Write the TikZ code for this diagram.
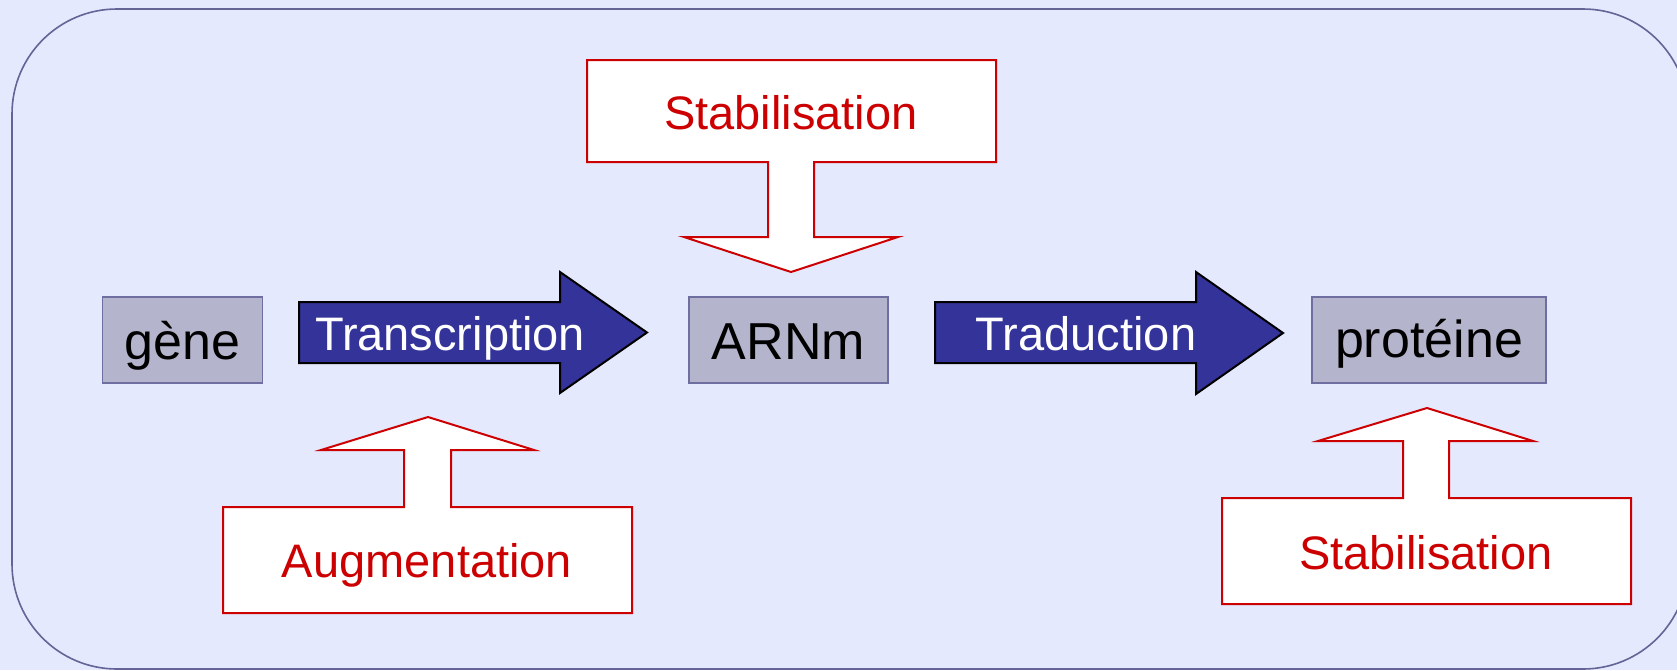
\documentclass[tikz,border=0pt]{standalone}
\usepackage{fontspec}
\setmainfont{Liberation Sans}
\definecolor{bgc}{RGB}{228,233,253}
\definecolor{framec}{RGB}{100,100,150}
\definecolor{boxfill}{RGB}{180,180,204}
\definecolor{boxline}{RGB}{110,110,160}
\definecolor{bluec}{RGB}{51,51,153}
\definecolor{redc}{RGB}{204,0,0}
\tikzset{
  graybox/.style={draw=boxline, fill=boxfill, line width=1.6pt, inner sep=0pt, anchor=base,
    font=\fontsize{52}{60}\selectfont, text=black},
  redshape/.style={draw=redc, fill=white, line width=2pt, line join=miter},
  bluearrow/.style={draw=black, fill=bluec, line width=2pt, line join=miter},
  redtxt/.style={anchor=base, inner sep=0pt, text=redc, font=\fontsize{47}{56}\selectfont},
  whitetxt/.style={anchor=base, inner sep=0pt, text=white, font=\fontsize{47}{56}\selectfont},
}
\begin{document}
\begin{tikzpicture}[x=1pt,y=-1pt]
\useasboundingbox (0,0) rectangle (1677,670);
\fill[bgc] (0,0) rectangle (1677,670);
\begin{scope}
\clip (0,0) rectangle (1677,670);
\draw[framec, line width=1.6pt, rounded corners=105pt] (12,9) rectangle (1688,669);
\end{scope}

% gray boxes
\node[graybox, minimum width=160pt, text height=62pt, text depth=24pt] (gene) at (182.3,359) {gène};
\node[graybox, minimum width=199pt, text height=62pt, text depth=24pt] (arnm) at (788.5,359) {ARNm};
\node[graybox, minimum width=234pt, text height=60pt, text depth=26pt] (prot) at (1429,357) {protéine};

% blue block arrows
\draw[bluearrow] (299,302) -- (560,302) -- (560,272) -- (647,332.5) -- (560,393) -- (560,363) -- (299,363) -- cycle;
\node[whitetxt] (transcription) at (450,350) {Transcription};
\draw[bluearrow] (935,302) -- (1196,302) -- (1196,272) -- (1283,333) -- (1196,394) -- (1196,363) -- (935,363) -- cycle;
\node[whitetxt] (traduction) at (1086,350) {Traduction};

% red callouts
\draw[redshape] (587,60) -- (996,60) -- (996,162) -- (814,162) -- (814,237) -- (898,237) -- (791,272) -- (684,237) -- (768,237) -- (768,162) -- (587,162) -- cycle;
\node[redtxt] (stab1) at (791,129) {Stabilisation};

\draw[redshape] (223,613) -- (632,613) -- (632,507) -- (451,507) -- (451,450) -- (534,450) -- (428,417) -- (321,450) -- (404,450) -- (404,507) -- (223,507) -- cycle;
\node[redtxt] (augm) at (427,577) {Augmentation};

\draw[redshape] (1222,604) -- (1631,604) -- (1631,498) -- (1449,498) -- (1449,441) -- (1533,441) -- (1427,408) -- (1318,441) -- (1403,441) -- (1403,498) -- (1222,498) -- cycle;
\node[redtxt] (stab2) at (1426,569) {Stabilisation};
\end{tikzpicture}
\end{document}
